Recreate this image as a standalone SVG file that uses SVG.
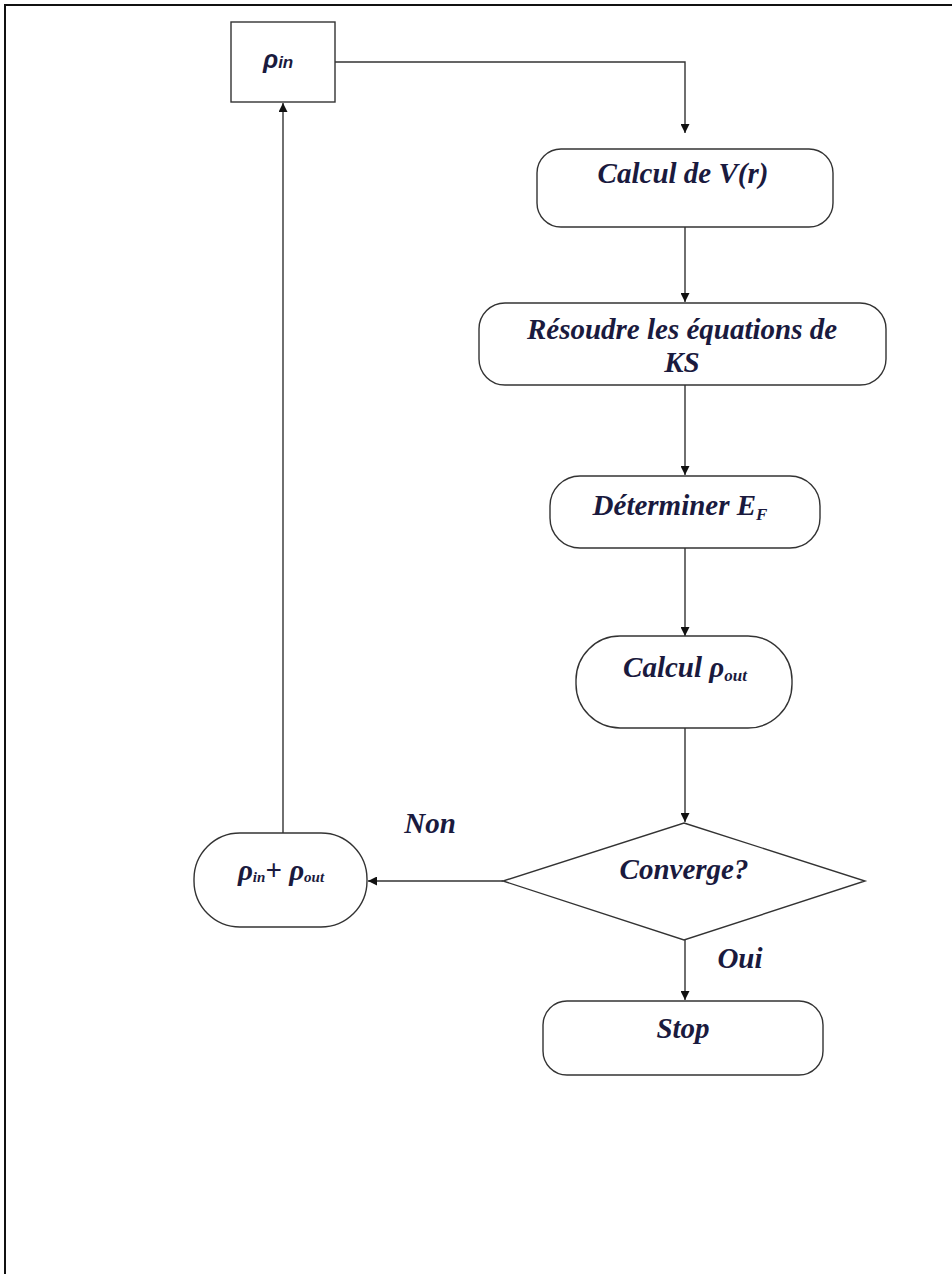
<svg xmlns="http://www.w3.org/2000/svg" width="952" height="1274" viewBox="0 0 952 1274">
<defs>
<marker id="ah" viewBox="0 0 10 10" refX="10" refY="5" markerWidth="9" markerHeight="9" markerUnits="userSpaceOnUse" orient="auto">
<path d="M0,0 L10,5 L0,10 Z" fill="#111"/>
</marker>
<style>
.shape{fill:#fff;stroke:#333;stroke-width:1.4}
.conn{fill:none;stroke:#333;stroke-width:1.4;marker-end:url(#ah)}
.lbl{font-family:"Liberation Serif","Times New Roman",serif;font-weight:bold;font-style:italic;font-size:29px;fill:#1a1a3e;text-anchor:middle}
.sub{font-size:17px}
.rho{font-family:"Liberation Sans",Arial,sans-serif;font-weight:bold;font-style:italic;fill:#1a1a3e}
</style>
</defs>
<rect width="952" height="1274" fill="#fff"/>
<g id="frame">
<path d="M5,1274 L5,5 L952,5" fill="none" stroke="#111" stroke-width="2"/>
</g>
<g id="connectors">
<path class="conn" d="M335,62 L685,62 L685,133"/>
<path class="conn" d="M685,227 L685,302"/>
<path class="conn" d="M685,385 L685,475"/>
<path class="conn" d="M685,548 L685,636"/>
<path class="conn" d="M685,728 L685,822"/>
<path class="conn" d="M685,940 L685,1000"/>
<path class="conn" d="M503,881 L368,881"/>
<path class="conn" d="M283,833 L283,103"/>
</g>
<g id="rho_in">
<rect class="shape" x="231" y="22" width="104" height="80"/>
<text class="rho" x="263" y="68" font-size="25">ρ<tspan font-size="17">in</tspan></text>
</g>
<g id="calcul_v">
<rect class="shape" x="537" y="149" width="296" height="78" rx="24" ry="24"/>
<text class="lbl" x="683" y="183">Calcul de V(r)</text>
</g>
<g id="resoudre">
<rect class="shape" x="479" y="303" width="407" height="82" rx="26" ry="26"/>
<text class="lbl" x="682" y="339" font-size="27">Résoudre les équations de</text>
<text class="lbl" x="682" y="372" font-size="27">KS</text>
</g>
<g id="determiner">
<rect class="shape" x="550" y="476" width="270" height="72" rx="30" ry="30"/>
<text class="lbl" x="680" y="515">Déterminer E<tspan class="sub" dy="5">F</tspan></text>
</g>
<g id="calcul_rho">
<rect class="shape" x="576" y="636" width="216" height="92" rx="44" ry="44"/>
<text class="lbl" x="685" y="677">Calcul ρ<tspan class="sub" dy="4">out</tspan></text>
</g>
<g id="converge">
<polygon class="shape" points="684,823 865,881 684,940 503,881"/>
<text class="lbl" x="684" y="879">Converge?</text>
</g>
<g id="label_non">
<text class="lbl" x="430" y="833">Non</text>
</g>
<g id="label_oui">
<text class="lbl" x="740" y="968">Oui</text>
</g>
<g id="rho_sum">
<rect class="shape" x="194" y="833" width="173" height="94" rx="46" ry="46"/>
<text class="lbl" x="281" y="880" font-size="24">ρ<tspan font-size="15" dy="2">in</tspan><tspan dy="-2">+ ρ</tspan><tspan font-size="15" dy="2">out</tspan></text>
</g>
<g id="stop">
<rect class="shape" x="543" y="1001" width="280" height="74" rx="24" ry="24"/>
<text class="lbl" x="683" y="1038">Stop</text>
</g>
</svg>
